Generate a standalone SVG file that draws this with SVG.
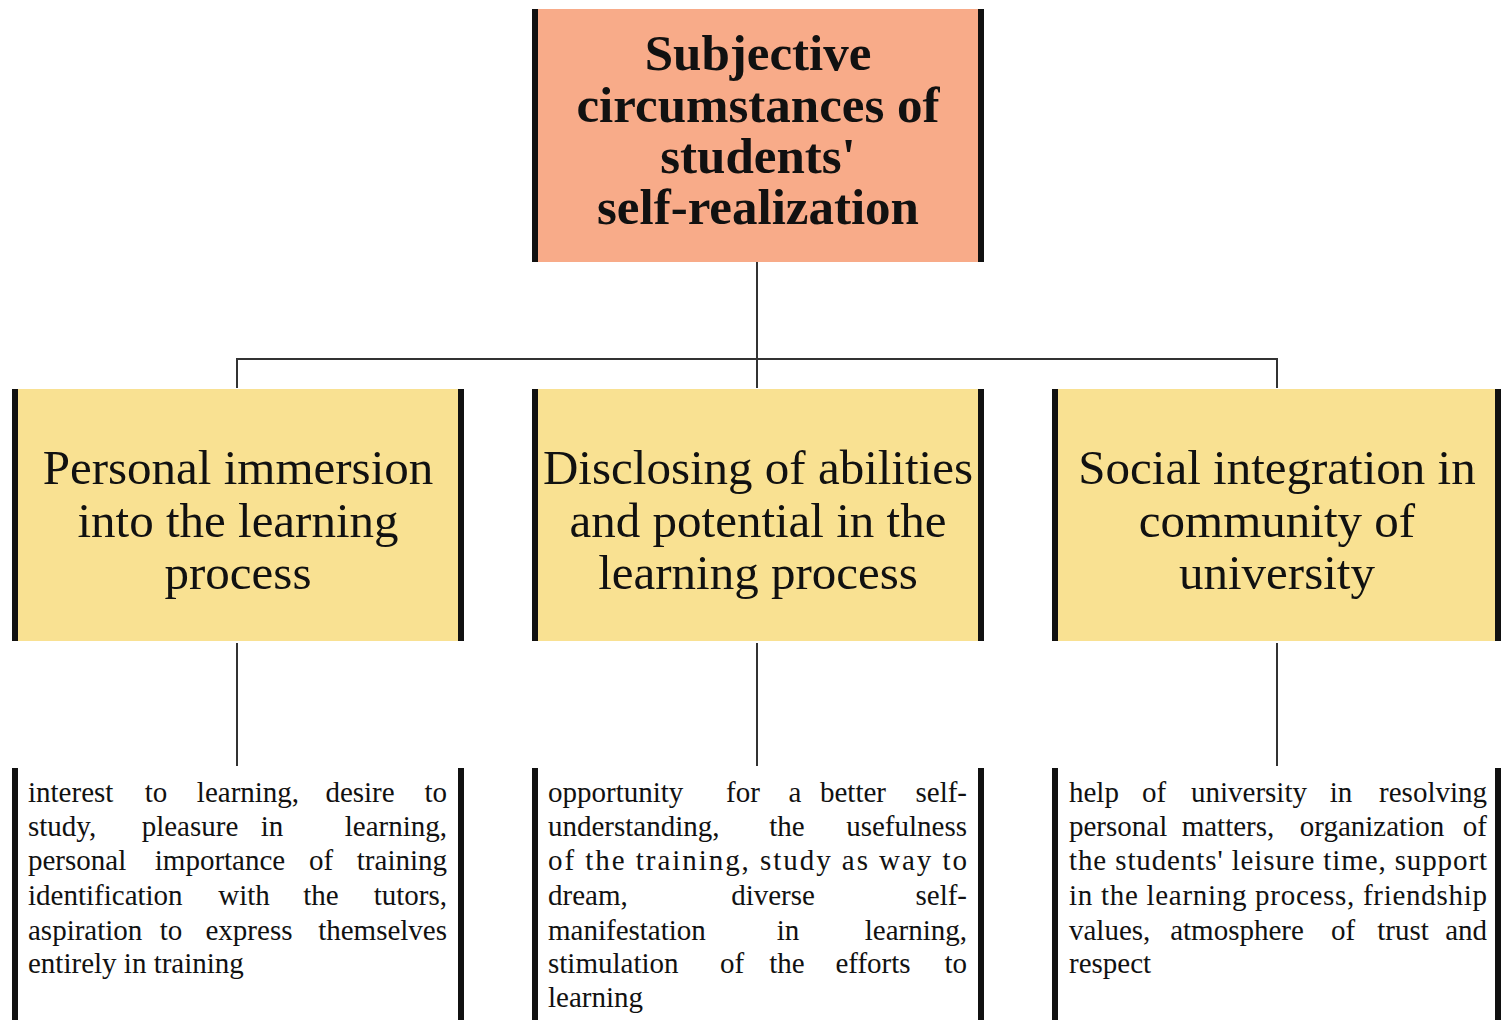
<svg xmlns="http://www.w3.org/2000/svg" width="1501" height="1020" viewBox="0 0 1501 1020">
<style>
.bar{fill:#111}
.top{fill:#F8AB89}
.mid{fill:#F9E192}
.t1{font-family:"Liberation Serif","Times New Roman",serif;font-weight:bold;font-size:51px;fill:#111;text-anchor:middle}
.t2{font-family:"Liberation Serif","Times New Roman",serif;font-size:49px;fill:#111;text-anchor:middle}
.t3{font-family:"Liberation Serif","Times New Roman",serif;font-size:29px;fill:#111}
.m{text-anchor:middle}
.e{text-anchor:end}
.con{stroke:#333;stroke-width:2;fill:none}
</style>
<rect width="1501" height="1020" fill="#fff"/>
<g id="connectors">
<path class="con" d="M757 262V388M237 388V359H1277V388"/>
<path class="con" d="M237 643V766M757 643V766M1277 643V766"/>
</g>
<g id="root">
<rect class="top" x="532" y="9" width="452" height="253"/>
<rect class="bar" x="532" y="9" width="6" height="253"/>
<rect class="bar" x="978" y="9" width="6" height="253"/>
<text class="t1" x="758" y="70">Subjective</text>
<text class="t1" x="758" y="122">circumstances of</text>
<text class="t1" x="758" y="173">students'</text>
<text class="t1" x="758" y="224">self-realization</text>
</g>
<g id="n1">
<rect class="mid" x="12" y="389" width="452" height="252"/>
<rect class="bar" x="12" y="389" width="6" height="252"/>
<rect class="bar" x="458" y="389" width="6" height="252"/>
<text class="t2" x="238" y="484">Personal immersion</text>
<text class="t2" x="238" y="537">into the learning</text>
<text class="t2" x="238" y="589">process</text>
</g>
<g id="n2">
<rect class="mid" x="532" y="389" width="452" height="252"/>
<rect class="bar" x="532" y="389" width="6" height="252"/>
<rect class="bar" x="978" y="389" width="6" height="252"/>
<text class="t2" x="758" y="484">Disclosing of abilities</text>
<text class="t2" x="758" y="537">and potential in the</text>
<text class="t2" x="758" y="589">learning process</text>
</g>
<g id="n3">
<rect class="mid" x="1052" y="389" width="449" height="252"/>
<rect class="bar" x="1052" y="389" width="6" height="252"/>
<rect class="bar" x="1495" y="389" width="6" height="252"/>
<text class="t2" x="1277" y="484">Social integration in</text>
<text class="t2" x="1277" y="537">community of</text>
<text class="t2" x="1277" y="589">university</text>
</g>
<g id="d1" class="t3">
<rect class="bar" x="12" y="768" width="6" height="252"/>
<rect class="bar" x="458" y="768" width="6" height="252"/>
<text x="28" y="802">interest</text><text class="m" x="156" y="802">to</text><text class="m" x="248" y="802">learning,</text><text class="m" x="360" y="802">desire</text><text class="e" x="447" y="802">to</text>
<text x="28" y="836">study,</text><text class="m" x="190" y="836">pleasure</text><text class="m" x="272" y="836">in</text><text class="e" x="447" y="836">learning,</text>
<text x="28" y="870">personal</text><text class="m" x="220" y="870">importance</text><text class="m" x="321" y="870">of</text><text class="e" x="447" y="870">training</text>
<text x="28" y="905">identification</text><text class="m" x="244" y="905">with</text><text class="m" x="321" y="905">the</text><text class="e" x="447" y="905">tutors,</text>
<text x="28" y="940">aspiration</text><text class="m" x="171" y="940">to</text><text class="m" x="249" y="940">express</text><text class="e" x="447" y="940">themselves</text>
<text x="28" y="973">entirely in training</text>
</g>
<g id="d2" class="t3">
<rect class="bar" x="532" y="768" width="6" height="252"/>
<rect class="bar" x="978" y="768" width="6" height="252"/>
<text x="548" y="802">opportunity</text><text class="m" x="743" y="802">for</text><text class="m" x="795" y="802">a</text><text class="m" x="853" y="802">better</text><text class="e" x="967" y="802">self-</text>
<text x="548" y="836">understanding,</text><text class="m" x="787" y="836">the</text><text class="e" x="967" y="836">usefulness</text>
<text x="548" y="870" textLength="419" lengthAdjust="spacing">of the training, study as way to</text>
<text x="548" y="905">dream,</text><text class="m" x="773" y="905">diverse</text><text class="e" x="967" y="905">self-</text>
<text x="548" y="940">manifestation</text><text class="m" x="788" y="940">in</text><text class="e" x="967" y="940">learning,</text>
<text x="548" y="973">stimulation</text><text class="m" x="732" y="973">of</text><text class="m" x="787" y="973">the</text><text class="m" x="873" y="973">efforts</text><text class="e" x="967" y="973">to</text>
<text x="548" y="1007">learning</text>
</g>
<g id="d3" class="t3">
<rect class="bar" x="1052" y="768" width="6" height="252"/>
<rect class="bar" x="1495" y="768" width="6" height="252"/>
<text x="1069" y="802">help</text><text class="m" x="1154" y="802">of</text><text class="m" x="1249" y="802">university</text><text class="m" x="1341" y="802">in</text><text class="e" x="1487" y="802">resolving</text>
<text x="1069" y="836">personal</text><text class="m" x="1228" y="836">matters,</text><text class="m" x="1372" y="836">organization</text><text class="e" x="1487" y="836">of</text>
<text x="1069" y="870" textLength="418" lengthAdjust="spacing">the students' leisure time, support</text>
<text x="1069" y="905" textLength="418" lengthAdjust="spacing">in the learning process, friendship</text>
<text x="1069" y="940">values,</text><text class="m" x="1237" y="940">atmosphere</text><text class="m" x="1343" y="940">of</text><text class="m" x="1403" y="940">trust</text><text class="e" x="1487" y="940">and</text>
<text x="1069" y="973">respect</text>
</g>
</svg>
